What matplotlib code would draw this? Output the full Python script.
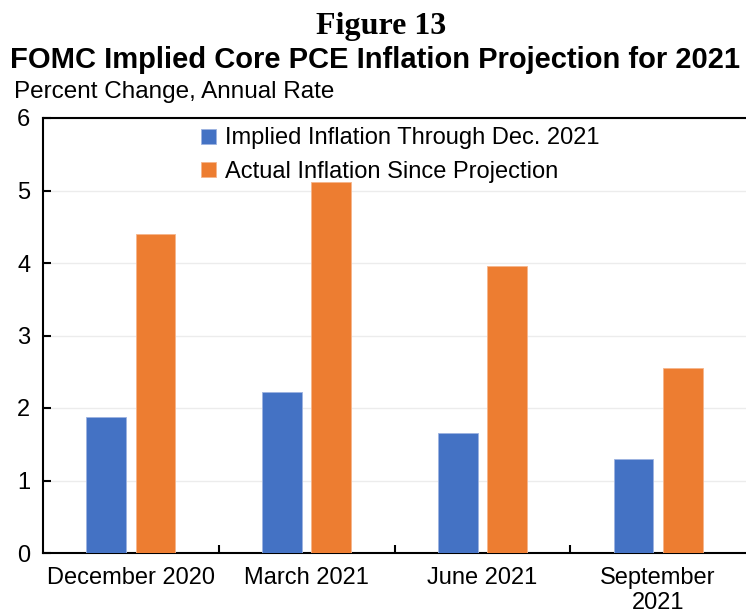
import numpy as np
import matplotlib.pyplot as plt

categories = ["December 2020", "March 2021", "June 2021", "September\n2021"]
implied = [1.88, 2.22, 1.65, 1.29]
actual = [4.40, 5.12, 3.96, 2.55]
series_names = ["Implied Inflation Through Dec. 2021", "Actual Inflation Since Projection"]
yticks = [0, 1, 2, 3, 4, 5, 6]

plt.rcParams['font.family'] = ['Liberation Sans', 'DejaVu Sans']

fig = plt.figure(figsize=(7.46, 6.14), dpi=100)
ax = fig.add_axes([43 / 746, 61 / 614, 703 / 746, 435 / 614])

x = np.arange(len(categories))
w = 0.227
ax.bar(x - 0.14, implied, w, color="#4472C4", edgecolor="#9db3e0", linewidth=0.6,
       label=series_names[0], zorder=3)
ax.bar(x + 0.14, actual, w, color="#ED7D31", edgecolor="#f5b58c", linewidth=0.6,
       label=series_names[1], zorder=3)

ax.set_xlim(-0.5, len(categories) - 0.5)
ax.set_ylim(0, 6)
ax.set_yticks(yticks)
ax.set_yticklabels([str(t) for t in yticks], fontsize=17)
ax.set_xticks(x)
ax.set_xticklabels(categories, fontsize=17, linespacing=1.2)
ax.set_xticks(np.arange(len(categories) - 1) + 0.5, minor=True)
ax.tick_params(axis="x", which="major", length=0, pad=10)
ax.tick_params(axis="x", which="minor", direction="in", length=6, width=1.5)
ax.tick_params(axis="y", direction="in", length=6, width=1.5, pad=9)

ax.grid(axis="y", color="#ececec", linewidth=1, zorder=0)
for s in ["left", "bottom", "top"]:
    ax.spines[s].set_linewidth(1.5)
ax.spines["right"].set_visible(False)

ax.legend(loc="upper left", bbox_to_anchor=(0.212, 1.0), frameon=False, fontsize=17,
          handlelength=0.6, handleheight=0.6, handletextpad=0.4, labelspacing=0.5,
          borderaxespad=0)

fig.text(0.511, 1 - 34 / 614, "Figure 13", family="Liberation Serif", fontweight="bold",
         fontsize=23, ha="center", va="baseline")
fig.text(0.013, 1 - 68 / 614, "FOMC Implied Core PCE Inflation Projection for 2021",
         fontweight="bold", fontsize=21, ha="left", va="baseline")
fig.text(0.019, 1 - 98 / 614, "Percent Change, Annual Rate", fontsize=17.5, ha="left",
         va="baseline")

fig.savefig("out.png", dpi=100)
